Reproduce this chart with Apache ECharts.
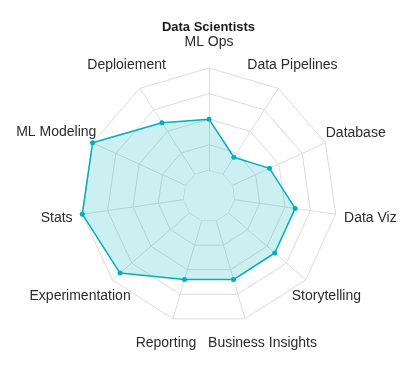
<!DOCTYPE html>
<html>
<head>
<meta charset="utf-8">
<script src="https://cdn.jsdelivr.net/npm/echarts@6/dist/echarts.min.js"></script>
<style>
html,body{margin:0;padding:0;background:#fff;}
#chart{width:417px;height:382px;}
</style>
</head>
<body>
<div id="chart"></div>
<script>
var titleText = 'Data Scientists';
var categories = ['ML Ops', 'Data Pipelines', 'Database', 'Data Viz', 'Storytelling',
  'Business Insights', 'Reporting', 'Experimentation', 'Stats', 'ML Modeling', 'Deploiement'];
var scores = [50, 20, 40, 60, 60, 60, 60, 90, 100, 100, 60];
var scaleMin = -25;   // inner hole (grid starts at 0 on first ring)
var scaleMax = 100;
var ringBase = categories.map(function () { return 0; });

// label nudges (styling only), [dx, dy] in px, same order as categories
var labelNudge = [[0, 4], [-2, 2], [3, 3], [5, 0], [-2, -3], [9, -4], [1.5, -4], [-9.5, -3], [4, 0], [-9, 1.5], [3, 2]];

// ECharts lays indicators counter-clockwise; the reference goes clockwise
var order = [0].concat(categories.slice(1).map(function (_, i) { return categories.length - 1 - i; }));
var indicators = order.map(function (i) { return { name: categories[i], min: scaleMin, max: scaleMax }; });
var values = order.map(function (i) { return scores[i]; });
var base = order.map(function (i) { return ringBase[i]; });

var rich = {};
categories.forEach(function (c, i) {
  var dx = labelNudge[i][0], dy = labelNudge[i][1];
  rich['k' + i] = {
    fontFamily: 'Liberation Sans', fontSize: 14, color: '#2b2b2b',
    padding: [dy > 0 ? 2 * dy : 0, dx < 0 ? -2 * dx : 0, dy < 0 ? -2 * dy : 0, dx > 0 ? 2 * dx : 0]
  };
});

var gridColor = '#dcdcdc';
var chart = echarts.init(document.getElementById('chart'), null, { renderer: 'canvas' });
chart.setOption({
  animation: false,
  title: {
    text: titleText, left: 'center', top: 16,
    textStyle: { fontFamily: 'Liberation Sans', fontSize: 13, fontWeight: 'bold', color: '#1a1a1a' }
  },
  radar: {
    center: [209, 196], radius: 128, startAngle: 90,
    splitNumber: 5, shape: 'polygon',
    indicator: indicators,
    nameGap: 30,
    axisName: {
      fontFamily: 'Liberation Sans', fontSize: 14, color: '#2b2b2b',
      align: 'center', verticalAlign: 'middle',
      formatter: function (name) { return '{k' + categories.indexOf(name) + '|' + name + '}'; },
      rich: rich
    },
    splitLine: { lineStyle: { color: gridColor, width: 1 } },
    splitArea: { show: false },
    axisLine: { lineStyle: { color: gridColor, width: 1 } },
    axisTick: { show: false },
    axisLabel: { show: false }
  },
  series: [
    {
      type: 'radar', z: 2, silent: true, symbol: 'none',
      lineStyle: { color: gridColor, width: 1 },
      areaStyle: { color: '#ffffff', opacity: 1 },
      data: [{ value: base }]
    },
    {
      type: 'radar', z: 3, silent: true,
      symbol: 'circle', symbolSize: 5,
      itemStyle: { color: '#00AFBB' },
      lineStyle: { color: '#00AFBB', width: 1.5 },
      areaStyle: { color: '#00AFBB', opacity: 0.2 },
      data: [{ value: values, name: titleText }]
    }
  ]
});
</script>
</body>
</html>
